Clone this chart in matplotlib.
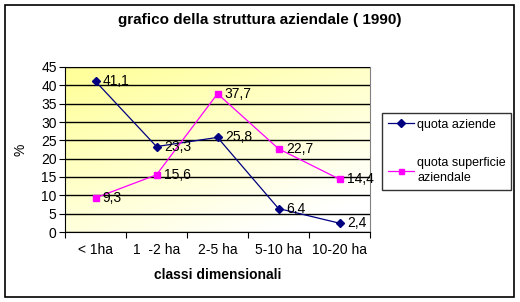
import numpy as np
import matplotlib.pyplot as plt
from matplotlib.patches import Rectangle

categories = ["< 1ha", "1  -2 ha", "2-5 ha", "5-10 ha", "10-20 ha"]
quota_aziende = [41.1, 23.3, 25.8, 6.4, 2.4]
quota_superficie = [9.3, 15.6, 37.7, 22.7, 14.4]
y_ticks = [0, 5, 10, 15, 20, 25, 30, 35, 40, 45]

plt.rcParams['font.family'] = ['Liberation Sans', 'DejaVu Sans']

W, H = 520, 302
fig = plt.figure(figsize=(W / 100, H / 100), dpi=100)

# outer frame
fig.patches.append(Rectangle((5 / W, 5 / H), 509 / W, 292 / H, transform=fig.transFigure,
                             fill=False, edgecolor='black', linewidth=1.2))

ax = fig.add_axes([65 / W, 1 - 232 / H, 305 / W, 165 / H])

# yellow -> white gradient background
gx, gy = np.meshgrid(np.linspace(0, 1, 200), np.linspace(0, 1, 200))
t = np.clip(0.5 * gx + 0.7 * gy - 0.05, 0, 1)  # gy=0 is top row
top = np.array([255, 255, 155]) / 255
bottom = np.array([255, 255, 255]) / 255
img = top * (1 - t[..., None]) + bottom * t[..., None]
ax.imshow(img, extent=[0, 5, 0, 45], aspect='auto', zorder=0, origin='upper')

x = np.arange(len(categories)) + 0.5
ax.plot(x, quota_aziende, color='#000080', marker='D', markersize=4, linewidth=0.9,
        label='quota aziende', zorder=3)
ax.plot(x, quota_superficie, color='#FF00FF', marker='s', markersize=4, linewidth=0.9,
        label='quota superficie\naziendale', zorder=3)

for xi, v in zip(x, quota_aziende):
    ax.text(xi + 0.12, v, f"{v:.1f}".replace('.', ','), fontsize=10, va='center', ha='left', zorder=4)
for xi, v in zip(x, quota_superficie):
    ax.text(xi + 0.12, v, f"{v:.1f}".replace('.', ','), fontsize=10, va='center', ha='left', zorder=4)

ax.set_xlim(0, 5)
ax.set_ylim(0, 45)
ax.set_yticks(y_ticks)
ax.set_yticklabels([str(v) for v in y_ticks], fontsize=10)
ax.set_xticks(np.arange(0, 6))
ax.set_xticklabels([])
ax.set_xticks(x, minor=True)
ax.set_xticklabels(categories, minor=True, fontsize=10)
ax.tick_params(axis='x', which='minor', length=0, pad=8)
ax.tick_params(axis='x', which='major', length=4, direction='out', color='black')
ax.tick_params(axis='y', length=4, direction='out', pad=2)
ax.grid(axis='y', color='black', linewidth=1)
ax.set_axisbelow(False)
for s in ['top', 'right']:
    ax.spines[s].set_color('#808080')
ax.spines['left'].set_color('black')
ax.spines['bottom'].set_color('black')

ax.set_xlabel("classi dimensionali", fontsize=10, fontweight='bold', labelpad=8)
ax.set_ylabel("%", fontsize=10, labelpad=10)

fig.text(260 / W, 1 - 20 / H, "grafico della struttura aziendale ( 1990)", fontsize=11,
         fontweight='bold', ha='center', va='center')

leg = fig.legend(loc='upper left', bbox_to_anchor=(382 / W, 1 - 113 / H), fontsize=9,
                 frameon=True, fancybox=False, edgecolor='black', borderpad=0.45,
                 labelspacing=2.1, handlelength=2.1, handletextpad=0.25, borderaxespad=0,
                 markerscale=0.9)
leg.get_frame().set_linewidth(1)
for txt in leg.get_texts():
    txt.set_linespacing(1.4)

fig.savefig("out.png", dpi=100)
